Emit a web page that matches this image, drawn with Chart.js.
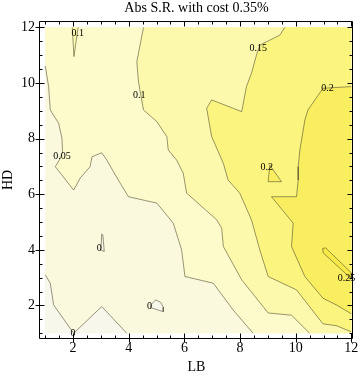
<!DOCTYPE html>
<html><head><meta charset="utf-8">
<script src="https://cdn.jsdelivr.net/npm/chart.js@4/dist/chart.umd.min.js"></script>
<style>html,body{margin:0;padding:0;background:#fff;}#wrap{width:360px;height:380px;}</style>
</head><body><div id="wrap"><canvas id="c" width="360" height="380"></canvas></div>
<script>
// ---------- text ----------
const titleText = 'Abs S.R. with cost 0.35%';
const xLabel = 'LB';
const yLabel = 'HD';
const lbTicks = [2, 4, 6, 8, 10, 12];
const hdTicks = [2, 4, 6, 8, 10, 12];
const lbRange = [1, 12];
const hdRange = [1, 12];

// ---------- contour lines (LB, HD) ----------
// level 0 : lower-left corner
const c000LB = [1.00, 1.18, 1.30, 2.02, 3.03, 3.93];
const c000HD = [3.10, 2.80, 2.02, 1.00, 1.96, 1.00];
// level 0 : small loop near (5,2)
const loop000LB = [4.80, 4.97, 5.15, 5.24, 5.24, 5.10, 4.83, 4.80];
const loop000HD = [2.03, 2.20, 2.11, 1.94, 1.78, 1.82, 1.91, 2.03];
// level 0 : thin spike near (3,4)
const spike000LB = [3.03, 3.00, 3.12, 3.07, 3.03];
const spike000HD = [4.57, 4.00, 3.94, 4.53, 4.57];
// level 0.05
const c005LB = [1.00, 1.12, 1.18, 1.48, 1.60, 1.62, 1.54, 1.36, 2.02, 2.26, 2.61, 2.68, 3.03, 3.21, 3.45, 3.69, 3.99, 5.01, 5.60, 5.90, 6.02, 7.04, 7.75, 8.47];
const c005HD = [10.61, 9.87, 9.03, 8.55, 8.01, 7.53, 7.29, 6.99, 6.15, 6.59, 6.99, 7.35, 7.49, 7.23, 6.81, 6.40, 5.91, 5.68, 4.96, 4.00, 3.04, 2.80, 1.84, 1.00];
// level 0.1
const c010LB = [4.53, 4.29, 4.35, 4.53, 5.01, 5.37, 5.42, 5.72, 5.96, 6.08, 7.16, 7.34, 7.40, 8.06, 9.01, 9.85, 10.50];
const c010HD = [12.00, 10.76, 10.04, 9.03, 8.61, 8.07, 7.59, 7.23, 6.75, 6.04, 5.08, 4.78, 4.12, 2.92, 1.73, 1.65, 1.00];
// level 0.1 : wedge at top-left
const wedge010LB = [1.97, 2.03, 2.18];
const wedge010HD = [12.00, 10.95, 12.00];
// level 0.15
const c015LB = [9.61, 9.43, 9.07, 8.71, 8.59, 8.41, 8.23, 8.06, 6.98, 6.80, 6.98, 7.40, 7.57, 7.99, 8.41, 8.71, 9.01, 10.03, 10.98, 11.47, 12.00];
const c015HD = [12.00, 11.72, 11.54, 11.36, 11.00, 10.35, 9.87, 8.97, 9.39, 9.09, 8.07, 7.11, 6.51, 6.04, 5.08, 4.00, 3.04, 2.56, 1.34, 1.27, 1.05];
// level 0.2
const c020LB = [12.00, 10.98, 10.44, 10.33, 10.15, 10.09, 10.09, 10.03, 9.13, 9.91, 9.85, 10.33, 10.98, 11.46, 12.00];
const c020HD = [9.87, 9.81, 9.03, 8.67, 7.59, 6.99, 6.51, 5.91, 5.91, 4.96, 4.12, 3.04, 2.26, 2.02, 1.70];
// level 0.2 : small triangle
const tri020LB = [9.07, 9.01, 9.49, 9.07];
const tri020HD = [7.05, 6.45, 6.45, 7.05];
// level 0.25 : sliver at right
const sl025LB = [10.97, 11.08, 12.00, 12.00, 10.99, 10.97];
const sl025HD = [4.05, 4.07, 3.17, 2.96, 3.89, 4.05];

// contour labels
const labelText = ['0.1', '0.15', '0.1', '0.2', '0.05', '0.2', '0', '0', '0', '0.25'];
const labelLB = [2.17, 8.65, 4.38, 11.14, 1.60, 8.96, 2.94, 4.75, 2.00, 11.83];
const labelHD = [11.78, 11.24, 9.57, 9.79, 7.36, 6.97, 4.04, 1.98, 1.00, 2.98];

// ---------- style ----------
const bandColors = ['#F7F7EC', '#FAF8DD', '#FDFBCC', '#FDF9AC', '#FBF580', '#F9EE60', '#F7E946'];
const lineColor = 'rgba(70,66,40,0.55)';
const serif = '"Liberation Serif", "Times New Roman", serif';

// ---------- build ----------
const pts = (a, b) => a.map((v, i) => ({x: v, y: b[i]}));
const [l0, l1] = lbRange, [h0, h1] = hdRange;
function region(points, color, order) {
  return {data: points, showLine: true, fill: 'shape', backgroundColor: color,
          borderColor: 'rgba(0,0,0,0)', borderWidth: 0, pointRadius: 0, order: order};
}
function line(points, order) {
  return {data: points, showLine: true, fill: false, borderColor: lineColor,
          borderWidth: 1, pointRadius: 0, order: order};
}
const datasets = [
  region(pts([l0, l1, l1, l0], [h0, h0, h1, h1]), bandColors[1], 30),
  region(pts(c000LB, c000HD).concat([{x: l0, y: h0}]), bandColors[0], 29),
  region(pts(loop000LB, loop000HD), bandColors[0], 28),
  region(pts(spike000LB, spike000HD), bandColors[0], 27),
  region(pts(c005LB, c005HD).concat(pts([l1, l1, l0], [h0, h1, h1])), bandColors[2], 26),
  region(pts(c010LB, c010HD).concat(pts([l1, l1], [h0, h1])), bandColors[3], 25),
  region(pts(wedge010LB, wedge010HD), bandColors[3], 24),
  region(pts(c015LB, c015HD).concat(pts([l1], [h1])), bandColors[4], 23),
  region(pts(c020LB, c020HD), bandColors[5], 22),
  region(pts(tri020LB, tri020HD), bandColors[5], 21),
  region(pts(sl025LB, sl025HD), bandColors[6], 20),
  line(pts(c000LB, c000HD), 10),
  line(pts(loop000LB, loop000HD), 9),
  line(pts(spike000LB, spike000HD), 8),
  line(pts(c005LB, c005HD), 7),
  line(pts(c010LB, c010HD), 6),
  line(pts(wedge010LB, wedge010HD), 5),
  line(pts(c015LB, c015HD), 4),
  line(pts(c020LB, c020HD), 3),
  line(pts(tri020LB, tri020HD), 2),
  line(pts(sl025LB, sl025HD), 1)
];

const frameTicks = {
  id: 'frameTicks',
  afterDraw(chart) {
    const {ctx, chartArea: a, scales: {x, y}} = chart;
    ctx.save();
    ctx.fillStyle = '#000';
    ctx.font = '10px ' + serif;
    ctx.textAlign = 'center';
    ctx.textBaseline = 'middle';
    labelText.forEach((t, i) => ctx.fillText(t, x.getPixelForValue(labelLB[i]), y.getPixelForValue(labelHD[i])));
    const L = Math.round(a.left) - 0.5, R = Math.round(a.right) - 0.5;
    const T = Math.round(a.top) - 0.5, B = Math.round(a.bottom) + 0.5;
    ctx.strokeStyle = '#000';
    ctx.lineWidth = 1;
    ctx.beginPath();
    ctx.rect(L, T, R - L, B - T);
    for (let v = lbRange[0]; v <= lbRange[1] + 1e-9; v += 0.5) {
      const major = lbTicks.includes(v);
      const px = Math.round(x.getPixelForValue(v)) + 0.5;
      ctx.moveTo(px, B + (major ? 4 : 0)); ctx.lineTo(px, B - (major ? 5 : 3));
      ctx.moveTo(px, T); ctx.lineTo(px, T + (major ? 5 : 3));
    }
    for (let v = hdRange[0]; v <= hdRange[1] + 1e-9; v += 0.5) {
      const major = hdTicks.includes(v);
      const py = Math.round(y.getPixelForValue(v)) + 0.5;
      ctx.moveTo(L - (major ? 4 : 0), py); ctx.lineTo(L + (major ? 5 : 3), py);
      ctx.moveTo(R, py); ctx.lineTo(R - (major ? 5 : 3), py);
    }
    ctx.stroke();
    ctx.restore();
  }
};

const tickFont = {family: serif, size: 14, weight: 'normal'};
new Chart(document.getElementById('c'), {
  type: 'scatter',
  data: {datasets},
  options: {
    responsive: false,
    animation: false,
    devicePixelRatio: 1,
    layout: {padding: {left: 0, right: 7, top: 0, bottom: 0}},
    plugins: {
      legend: {display: false},
      tooltip: {enabled: false},
      title: {display: true, text: titleText, fullSize: false, color: '#000',
              font: {family: serif, size: 14, weight: 'normal'}, padding: {top: 0, bottom: 5}}
    },
    scales: {
      x: {
        type: 'linear', min: 0.81, max: 12.06,
        afterBuildTicks: s => { s.ticks = lbTicks.map(v => ({value: v})); },
        ticks: {font: tickFont, color: '#000', padding: 2, maxRotation: 0, autoSkip: false},
        grid: {display: false, drawTicks: false},
        border: {display: false},
        title: {display: true, text: xLabel, color: '#000', font: tickFont, padding: {top: 0, bottom: 4}},
        afterFit: s => { s.height = 42; s.paddingLeft = 0; s.paddingRight = 0; }
      },
      y: {
        type: 'linear', min: 0.83, max: 12.2,
        afterBuildTicks: s => { s.ticks = hdTicks.map(v => ({value: v})); },
        ticks: {font: tickFont, color: '#000', padding: 5, autoSkip: false},
        grid: {display: false, drawTicks: false},
        border: {display: false},
        title: {display: true, text: yLabel, color: '#000', font: tickFont, padding: {top: 0, bottom: 0}},
        afterFit: s => { s.width = 40; s.paddingTop = 0; s.paddingBottom = 0; }
      }
    }
  },
  plugins: [frameTicks]
});
</script>
</body></html>
